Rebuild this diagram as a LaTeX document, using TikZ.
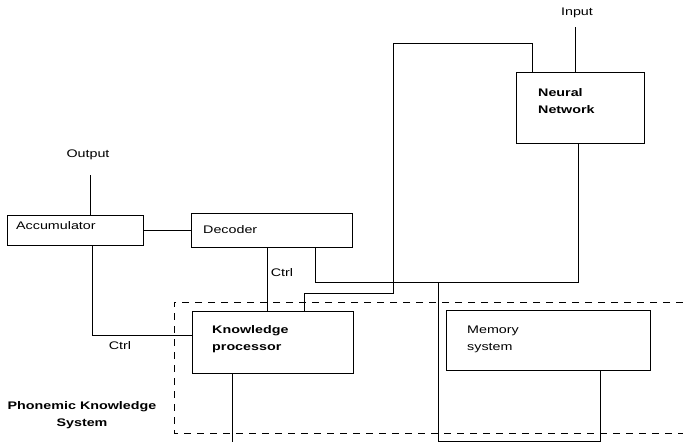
\documentclass[tikz,border=0pt]{standalone}
\usepackage{fontspec}
\setmainfont[FakeStretch=1.3]{Liberation Sans}
\begin{document}
\begin{tikzpicture}[x=1pt,y=-1pt,
  box/.style={draw, line width=1pt, inner sep=0pt, anchor=north west},
  lbl/.style={inner sep=0pt, align=left, font=\fontsize{11}{17}\selectfont},
  blbl/.style={lbl, font=\fontsize{11}{17}\selectfont\bfseries},
  wire/.style={line width=0.9pt},
  region/.style={line width=0.9pt, dash pattern=on 7pt off 6pt}]
\useasboundingbox (0,0) rectangle (683,442);
% boxes
\node[box, minimum width=136, minimum height=30,
  label={[lbl, anchor=north west, xshift=9, yshift=-6]north west:Accumulator}] (acc) at (7,215) {};
\node[box, minimum width=161, minimum height=34,
  label={[lbl, anchor=north west, xshift=12, yshift=-12]north west:Decoder}] (dec) at (191,213) {};
\node[box, minimum width=128, minimum height=71,
  label={[blbl, anchor=north west, xshift=22, yshift=-16]north west:Neural\\Network}] (nn) at (516,72) {};
\node[box, minimum width=161, minimum height=62,
  label={[blbl, anchor=north west, xshift=20, yshift=-14]north west:Knowledge\\processor}] (kp) at (192,311) {};
\node[box, minimum width=204, minimum height=60,
  label={[lbl, anchor=north west, xshift=21, yshift=-16]north west:Memory\\system}] (mem) at (446,310) {};
% free labels
\node[lbl] (outl) at (88,155) {Output};
\node[lbl] (inl) at (577,13) {Input};
\node[lbl] (ctl1) at (282,273) {Ctrl};
\node[lbl] (ctl2) at (120,346) {Ctrl};
\node[blbl, align=center] (pks) at (82,415) {Phonemic Knowledge\\System};
% coordinates
\coordinate (outtop) at (90,175);
\coordinate (intop) at (575,27);
\coordinate (ac) at (92,335);
\coordinate (cd) at (267,280);
\coordinate (dr) at (315,282);
\coordinate (nr) at (578,282);
\coordinate (k1) at (304,293);
\coordinate (k2) at (393,293);
\coordinate (k3) at (393,43);
\coordinate (k4) at (532,43);
\coordinate (m1) at (600,441);
\coordinate (m2) at (438,441);
\coordinate (m3) at (438,282);
\coordinate (kb) at (232,442);
% connectors
\draw[wire] (outtop) -- (outtop |- acc.north);
\draw[wire] (intop) -- (intop |- nn.north);
\draw[wire] (acc.east) -- (dec.west);
\draw[wire] (acc.south -| ac) -- (ac) -- (ac -| kp.west);
\draw[wire] (dec.south -| cd) -- (kp.north -| cd);
\draw[wire] (dec.south -| dr) -- (dr) -- (nr) -- (nn.south -| nr);
\draw[wire] (kp.north -| k1) -- (k1) -- (k2) -- (k3) -- (k4) -- (nn.north -| k4);
\draw[wire] (mem.south -| m1) -- (m1) -- (m2) -- (m3);
\draw[wire] (kp.south -| kb) -- (kb);
% dashed region
\draw[region] (683,302) -- (174,302) -- (174,433) -- (683,433);
\end{tikzpicture}
\end{document}
